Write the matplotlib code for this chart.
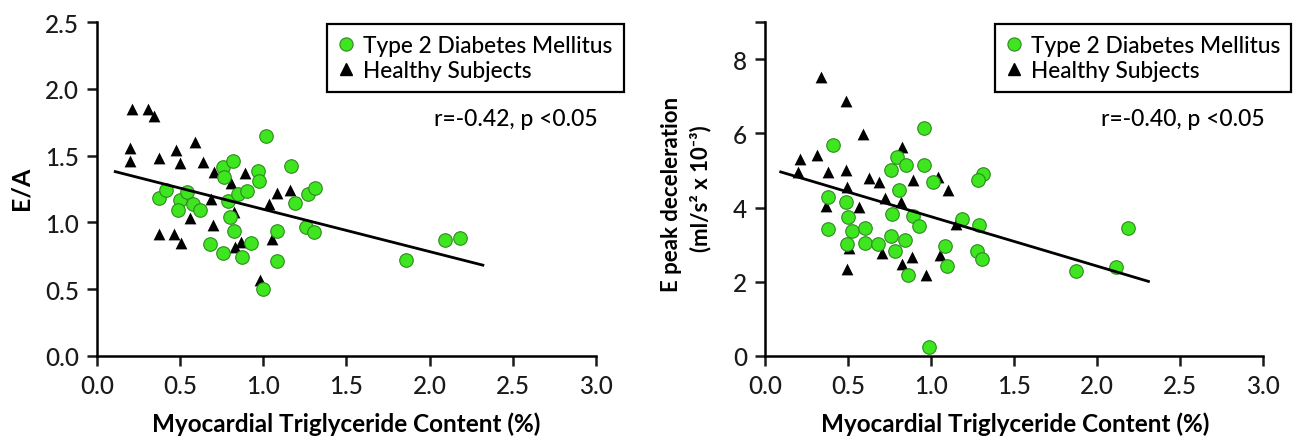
import matplotlib
matplotlib.use("Agg")
import matplotlib.pyplot as plt
from matplotlib.lines import Line2D

plt.rcParams['font.family'] = ['Lato', 'DejaVu Sans']
plt.rcParams['font.size'] = 17
plt.rcParams['font.weight'] = 'medium'

green = '#3de61f'
green_edge = '#2f8a1f'

# E/A vs myocardial triglyceride content
ea_t2dm_x = [0.37, 0.414, 0.50, 0.49, 0.54, 0.58, 0.62, 0.68, 0.756, 0.762, 0.82, 0.788,
             0.80, 0.758, 0.826, 0.85, 0.90, 0.87, 0.926, 0.968, 0.972, 1.014, 0.996,
             1.084, 1.08, 1.168, 1.19, 1.267, 1.31, 1.259, 1.304, 1.86, 2.095, 2.183]
ea_t2dm_y = [1.18, 1.24, 1.17, 1.095, 1.225, 1.14, 1.09, 0.835, 1.415, 1.338, 1.457, 1.157,
             1.038, 0.77, 0.938, 1.213, 1.238, 0.738, 0.845, 1.388, 1.313, 1.65, 0.505,
             0.935, 0.713, 1.42, 1.147, 1.213, 1.257, 0.968, 0.925, 0.718, 0.868, 0.88]
ea_healthy_x = [0.21, 0.304, 0.344, 0.196, 0.196, 0.37, 0.478, 0.498, 0.588, 0.635, 0.37,
                0.464, 0.503, 0.562, 0.704, 0.688, 0.70, 0.805, 0.823, 0.89, 0.827, 0.863,
                0.978, 1.035, 1.08, 1.158, 1.05]
ea_healthy_y = [1.848, 1.848, 1.796, 1.557, 1.46, 1.482, 1.54, 1.447, 1.603, 1.455, 0.915,
                0.915, 0.845, 1.035, 1.374, 1.178, 0.978, 1.298, 1.075, 1.37, 0.813, 0.85,
                0.568, 1.14, 1.223, 1.245, 0.875]
ea_fit_x = [0.11, 2.32]
ea_fit_y = [1.38, 0.68]

# E peak deceleration vs myocardial triglyceride content
dec_t2dm_x = [0.408, 0.38, 0.377, 0.49, 0.502, 0.522, 0.494, 0.60, 0.603, 0.68, 0.757,
              0.793, 0.847, 0.807, 0.764, 0.762, 0.783, 0.843, 0.864, 0.89, 0.929, 0.96,
              0.958, 1.012, 0.988, 1.084, 1.094, 1.185, 1.315, 1.285, 1.29, 1.275, 1.308,
              1.872, 2.113, 2.189]
dec_t2dm_y = [5.69, 4.29, 3.42, 4.14, 3.74, 3.38, 3.02, 3.46, 3.04, 3.03, 5.0,
              5.36, 5.16, 4.48, 3.83, 3.23, 2.84, 3.12, 2.18, 3.78, 3.49, 6.15,
              5.16, 4.69, 0.245, 2.96, 2.43, 3.70, 4.91, 4.73, 3.53, 2.84, 2.61,
              2.28, 2.39, 3.44]
dec_healthy_x = [0.337, 0.488, 0.588, 0.211, 0.20, 0.315, 0.378, 0.488, 0.492, 0.367, 0.567,
                 0.628, 0.689, 0.723, 0.825, 0.82, 0.89, 1.042, 1.104, 0.497, 0.505, 0.708,
                 0.823, 0.884, 0.971, 1.054, 1.15]
dec_healthy_y = [7.52, 6.86, 5.99, 5.30, 4.97, 5.42, 4.97, 5.0, 4.55, 4.05, 4.01,
                 4.80, 4.68, 4.25, 5.63, 4.16, 4.75, 4.82, 4.46, 2.34, 2.90, 2.77,
                 2.49, 2.67, 2.19, 2.71, 3.55]
dec_fit_x = [0.095, 2.31]
dec_fit_y = [4.96, 2.01]

labels = ['Type 2 Diabetes Mellitus', 'Healthy Subjects']
x_ticks = [0.0, 0.5, 1.0, 1.5, 2.0, 2.5, 3.0]
x_label = 'Myocardial Triglyceride Content (%)'


def draw_panel(ax, t2x, t2y, hx, hy, fx, fy, stat_text):
    ax.scatter(hx, hy, marker='^', s=72, color='black', linewidths=0, zorder=3, clip_on=False)
    ax.scatter(t2x, t2y, marker='o', s=95, facecolor=green, edgecolor=green_edge,
               linewidths=0.8, zorder=4, clip_on=False)
    ax.plot(fx, fy, color='black', lw=2.0, zorder=5)

    for side in ['top', 'right']:
        ax.spines[side].set_visible(False)
    for side in ['left', 'bottom']:
        ax.spines[side].set_linewidth(1.8)
    ax.tick_params(direction='out', length=7, width=1.8, pad=6, labelsize=17.5, colors='#1a1a1a')
    ax.set_xlim(0, 3.0)
    ax.set_xticks(x_ticks)
    ax.set_xticklabels(['%.1f' % t for t in x_ticks])

    handles = [Line2D([], [], marker='o', ls='none', markersize=9.5, markerfacecolor=green,
                      markeredgecolor=green_edge, markeredgewidth=0.8),
               Line2D([], [], marker='^', ls='none', markersize=8, color='black')]
    leg = ax.legend(handles, labels, loc='upper left', bbox_to_anchor=(0.461, 0.994),
                    frameon=True, fancybox=False, framealpha=1, edgecolor='black',
                    borderpad=0.5, handlelength=0.7, handletextpad=0.4, labelspacing=0.15,
                    borderaxespad=0, fontsize=16.3)
    leg.get_frame().set_linewidth(1.6)

    ax.text(1.004, 0.71, stat_text, transform=ax.transAxes, ha='right', va='center', fontsize=16.5)


fig = plt.figure(figsize=(12.93, 4.39), dpi=100)
ax1 = fig.add_axes([0.0750, 0.1868, 0.3859, 0.7608])
ax2 = fig.add_axes([0.5916, 0.1868, 0.3852, 0.7608])

draw_panel(ax1, ea_t2dm_x, ea_t2dm_y, ea_healthy_x, ea_healthy_y, ea_fit_x, ea_fit_y,
           'r=-0.42, p <0.05')
ax1.set_ylim(0, 2.5)
ax1.set_yticks([0.0, 0.5, 1.0, 1.5, 2.0, 2.5])
ax1.set_yticklabels(['0.0', '0.5', '1.0', '1.5', '2.0', '2.5'])

draw_panel(ax2, dec_t2dm_x, dec_t2dm_y, dec_healthy_x, dec_healthy_y, dec_fit_x, dec_fit_y,
           'r=-0.40, p <0.05')
ax2.set_ylim(0, 9)
ax2.set_yticks([0, 2, 4, 6, 8, 9])
ax2.set_yticklabels(['0', '2', '4', '6', '8', ''])

# axis titles
fig.text(0.0162, 0.572, 'E/A', rotation=90, ha='center', va='center', fontsize=18, fontweight='bold')
fig.text(0.5197, 0.558, 'E peak deceleration', rotation=90, ha='center', va='center',
         fontsize=16, fontweight='bold')
fig.text(0.5414, 0.571, '(ml/s² x 10⁻³)', rotation=90, ha='center', va='center',
         fontsize=16, fontweight='bold')
fig.text(0.268, 0.016, x_label, ha='center', va='baseline', fontsize=17.5, fontweight='bold')
fig.text(0.785, 0.016, x_label, ha='center', va='baseline', fontsize=17.5, fontweight='bold')

fig.savefig('out.png', dpi=100)
